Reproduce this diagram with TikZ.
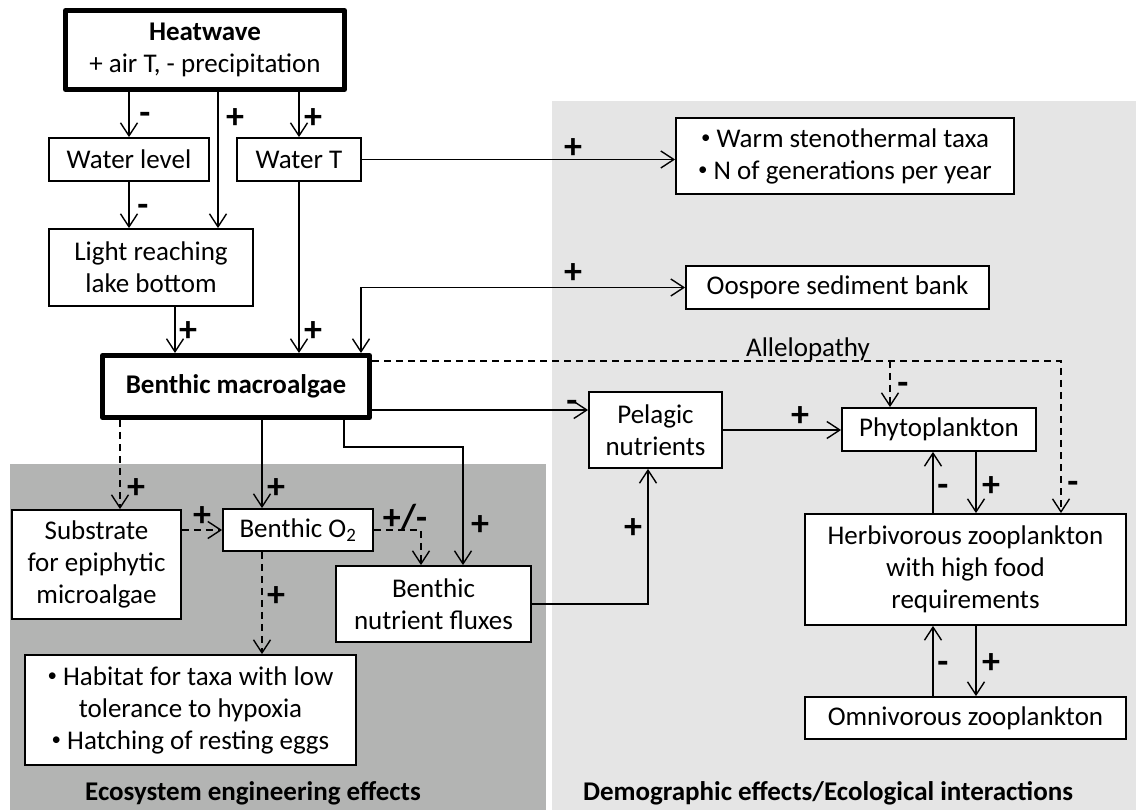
\documentclass[tikz,border=0pt]{standalone}
\usepackage{fontspec}
\usepackage{graphicx}
\setmainfont{Carlito}
\usetikzlibrary{arrows.meta}
\definecolor{darkbg}{RGB}{179,180,179}
\definecolor{lightbg}{RGB}{229,229,229}
\newcommand\mainfs{\fontsize{27}{32}\selectfont}
\newcommand\lblfs{\fontsize{36}{36}\selectfont\bfseries}
\newcommand\bul{\raisebox{0.12em}{\scalebox{0.7}{\textbullet}}}
\tikzset{
  box/.style={draw, line width=1.8pt, fill=white, inner sep=0pt, align=center, font=\mainfs},
  thickbox/.style={box, line width=5pt, line join=round},
  arr/.style={line width=1.4pt, -{Straight Barb[length=13pt,width=17pt,line width=1.4pt]}},
  arrboth/.style={line width=1.4pt, {Straight Barb[length=13pt,width=17pt,line width=1.4pt]}-{Straight Barb[length=13pt,width=17pt,line width=1.4pt]}},
  dsh/.style={dash pattern=on 7pt off 5pt},
  lbl/.style={inner sep=0pt, font=\lblfs, anchor=base, yshift=-11.5pt},
  plain/.style={inner sep=0pt, font=\mainfs},
}
\begin{document}
\begin{tikzpicture}[x=1pt,y=-1pt]
\useasboundingbox (0,0) rectangle (1136,810);
\fill[white] (0,0) rectangle (1136,810);
\fill[lightbg] (552,101) rectangle (1136,810);
\fill[darkbg] (10,464) rectangle (546,810);

% helper coordinates
\coordinate (x120) at (120,0);
\coordinate (x175) at (175,0);
\coordinate (x218) at (218,0);
\coordinate (x262) at (262,0);
\coordinate (x344) at (344,0);
\coordinate (x361) at (361,0);
\coordinate (x421) at (421,0);
\coordinate (x463) at (463,0);
\coordinate (x648) at (648,0);
\coordinate (x890) at (890,0);
\coordinate (x933) at (933,0);
\coordinate (x976) at (976,0);
\coordinate (x1061) at (1061,0);
\coordinate (y361) at (0,361);
\coordinate (y410) at (0,410);
\coordinate (y447) at (0,447);

% nodes
\node[thickbox, minimum width=279pt, minimum height=79pt] (heat) at (205,50) {\textbf{Heatwave}\\+ air T, - precipitation};
\node[box, minimum width=160pt, minimum height=43pt] (wl) at (129,159.5) {Water level};
\node[box, minimum width=124pt, minimum height=43pt] (wt) at (299,159.5) {Water T};
\node[box, minimum width=204pt, minimum height=77pt] (light) at (151,267.5) {Light reaching\\lake bottom};
\node[thickbox, minimum width=267pt, minimum height=62pt] (macro) at (236,386.5) {\textbf{Benthic macroalgae}};
\node[box, minimum width=303pt, minimum height=43pt] (oos) at (837.5,287.5) {Oospore sediment bank};
\node[box, minimum width=338pt, minimum height=76pt] (warm) at (845,156) {\bul{} Warm stenothermal taxa\\\bul{} N of generations per year};
\node[box, minimum width=169pt, minimum height=109pt] (sub) at (96.5,564.5) {Substrate\\for epiphytic\\microalgae};
\node[box, minimum width=150pt, minimum height=42pt] (o2) at (298,530) {Benthic O\textsubscript{2}};
\node[box, minimum width=195pt, minimum height=76pt] (nut) at (433.5,604) {Benthic\\nutrient fluxes};
\node[box, minimum width=331pt, minimum height=110pt] (hab) at (190.5,710) {\bul{} Habitat for taxa with low\\tolerance to hypoxia\\\bul{} Hatching of resting eggs};
\node[box, minimum width=133pt, minimum height=76pt] (pel) at (655.5,430) {Pelagic\\nutrients};
\node[box, minimum width=194pt, minimum height=43pt] (phy) at (939,429.5) {Phytoplankton};
\node[box, minimum width=321pt, minimum height=111pt] (herb) at (965.5,569.5) {Herbivorous zooplankton\\with high food\\requirements};
\node[box, minimum width=321pt, minimum height=42pt] (omni) at (965.5,718) {Omnivorous zooplankton};

\node[plain] (allel) at (808,349) {Allelopathy};
\node[plain, font=\mainfs\bfseries] (cap1) at (253,793) {Ecosystem engineering effects};
\node[plain, font=\mainfs\bfseries] (cap2) at (828,793) {Demographic effects/Ecological interactions};

% connectors
\draw[arr] (heat.south -| wl.north) -- (wl.north);
\draw[arr] (heat.south -| x218) -- (light.north -| x218);
\draw[arr] (heat.south -| wt.north) -- (wt.north);
\draw[arr] (wl.south) -- (light.north -| wl.south);
\draw[arr] (light.south -| x175) -- (macro.north -| x175);
\draw[arr] (wt.south) -- (macro.north -| wt.south);
\draw[arr] (wt.east) -- (warm.west |- wt.east);
\draw[arrboth] (macro.north -| x361) |- (oos.west);
\draw[arr,dsh] (macro.east |- y361) -| (herb.north -| x1061);
\draw[arr,dsh] (x890 |- y361) -- (phy.north -| x890);
\draw[arr] (macro.east |- y410) -- (pel.west |- y410);
\draw[arr,dsh] (macro.south -| x120) -- (sub.north -| x120);
\draw[arr] (macro.south -| x262) -- (o2.north -| x262);
\draw[arr] (macro.south -| x344) |- (x463 |- y447) -- (nut.north -| x463);
\draw[arr,dsh] (sub.east |- o2.west) -- (o2.west);
\draw[arr,dsh] (o2.east) -| (nut.north -| x421);
\draw[arr,dsh] (o2.south -| x262) -- (hab.north -| x262);
\draw[arr] (nut.east) -| (pel.south -| x648);
\draw[arr] (pel.east) -- (phy.west |- pel.east);
\draw[arr] (herb.north -| x933) -- (phy.south -| x933);
\draw[arr] (phy.south -| x976) -- (herb.north -| x976);
\draw[arr] (omni.north -| x933) -- (herb.south -| x933);
\draw[arr] (herb.south -| x976) -- (omni.north -| x976);

% sign labels
\node[lbl] (s1) at (145,113) {-};
\node[lbl] (s2) at (235,117) {+};
\node[lbl] (s3) at (313,117) {+};
\node[lbl] (s4) at (143,205) {-};
\node[lbl] (s5) at (188,330) {+};
\node[lbl] (s6) at (313,330) {+};
\node[lbl] (s7) at (573,147) {+};
\node[lbl] (s8) at (573,272) {+};
\node[lbl] (s9) at (572,401) {-};
\node[lbl] (s10) at (903,383) {-};
\node[lbl] (s11) at (1073,482) {-};
\node[lbl] (s12) at (800,415) {+};
\node[lbl] (s13) at (136,487) {+};
\node[lbl] (s14) at (276,487) {+};
\node[lbl] (s15) at (202,515) {+};
\node[lbl] (s16) at (405,518) {+/-};
\node[lbl] (s17) at (480,524) {+};
\node[lbl] (s18) at (276,595) {+};
\node[lbl] (s19) at (633,527) {+};
\node[lbl] (s20) at (943,485) {-};
\node[lbl] (s21) at (991,485) {+};
\node[lbl] (s22) at (943,662) {-};
\node[lbl] (s23) at (991,662) {+};
\end{tikzpicture}
\end{document}
